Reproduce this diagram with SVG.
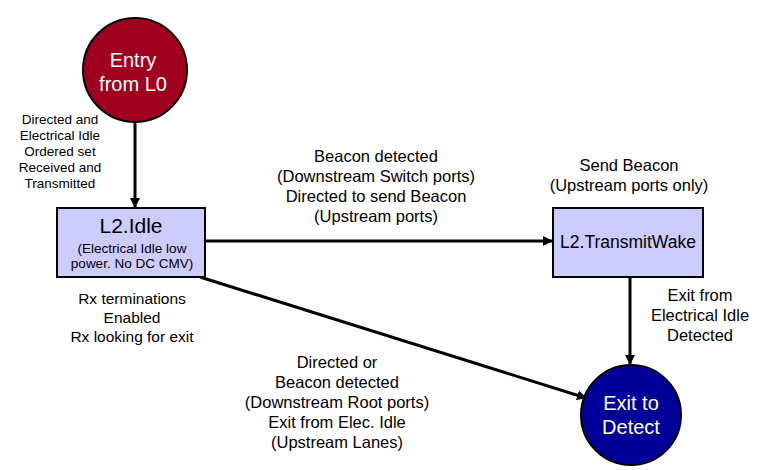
<svg xmlns="http://www.w3.org/2000/svg" width="763" height="470" viewBox="0 0 763 470">
<defs><marker id="ah" markerWidth="10" markerHeight="10" refX="9" refY="5" orient="auto" markerUnits="userSpaceOnUse"><path d="M0,0 L10,5 L0,10 z" fill="#000"/></marker>
<style>text{font-family:"Liberation Sans",Arial,sans-serif;fill:#000;text-anchor:middle}.l{font-size:16.5px}.r{font-size:15.5px}.s{font-size:13.5px}.c{fill:#fff;font-size:20px}.box{fill:#ccccff;stroke:#000;stroke-width:2}.e{stroke:#000;stroke-width:3;fill:none;marker-end:url(#ah)}</style></defs>
<rect width="763" height="470" fill="#fff"/>
<g id="connectors">
<line class="e" x1="135" y1="122" x2="135" y2="207"/>
<line class="e" x1="205" y1="241" x2="552" y2="241"/>
<line class="e" x1="630" y1="277" x2="630" y2="364"/>
<line class="e" x1="200" y1="277" x2="586" y2="398"/>
</g>
<g id="entry"><circle cx="135" cy="70" r="52" fill="#a0001e" stroke="#000" stroke-width="2"/><text class="c" x="133" y="67">Entry</text><text class="c" x="133" y="91">from L0</text></g>
<g id="idle"><rect class="box" x="57" y="208" width="148" height="69"/><text x="131" y="233" style="font-size:21px">L2.Idle</text><text class="s" x="132" y="253">(Electrical Idle low</text><text class="s" x="132" y="268">power. No DC CMV)</text></g>
<g id="tw"><rect class="box" x="553" y="208" width="150" height="69"/><text x="628" y="248" style="font-size:17.5px">L2.TransmitWake</text></g>
<g id="exit"><circle cx="631" cy="415" r="50" fill="#000099" stroke="#000" stroke-width="2"/><text class="c" x="631" y="410">Exit to</text><text class="c" x="631" y="434">Detect</text></g>
<g id="labels">
<text class="s" x="60" y="124">Directed and</text><text class="s" x="60" y="140">Electrical Idle</text><text class="s" x="60" y="156">Ordered set</text><text class="s" x="60" y="172">Received and</text><text class="s" x="60" y="188">Transmitted</text>
<text class="l" x="376" y="162">Beacon detected</text><text class="l" x="376" y="182">(Downstream Switch ports)</text><text class="l" x="376" y="202">Directed to send Beacon</text><text class="l" x="376" y="222">(Upstream ports)</text>
<text class="l" x="629" y="171">Send Beacon</text><text class="l" x="629" y="191">(Upstream ports only)</text>
<text class="r" x="132" y="304">Rx terminations</text><text class="r" x="132" y="323">Enabled</text><text class="r" x="132" y="342">Rx looking for exit</text>
<text class="l" x="700" y="301">Exit from</text><text class="l" x="700" y="321">Electrical Idle</text><text class="l" x="700" y="341">Detected</text>
<text class="l" x="337" y="368">Directed or</text><text class="l" x="337" y="388">Beacon detected</text><text class="l" x="337" y="408">(Downstream Root ports)</text><text class="l" x="337" y="428">Exit from Elec. Idle</text><text class="l" x="337" y="448">(Upstream Lanes)</text>
</g>
</svg>
